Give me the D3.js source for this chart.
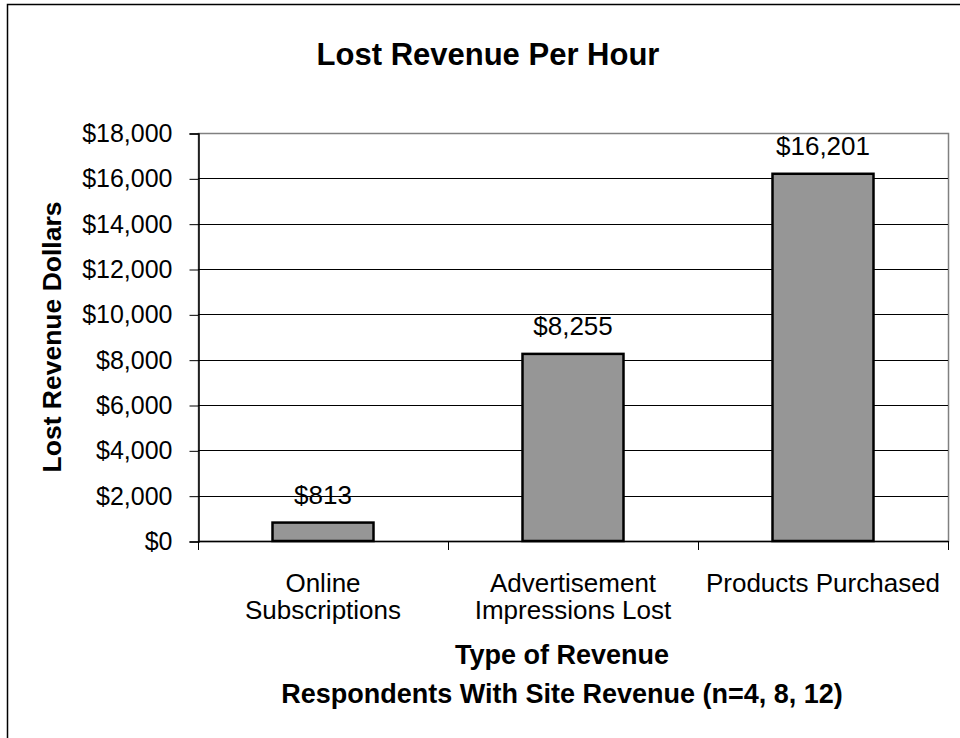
<!DOCTYPE html>
<html>
<head>
<meta charset="utf-8">
<script src="https://cdn.jsdelivr.net/npm/d3@7"></script>
<style>
  html, body { margin: 0; padding: 0; background: #fff; }
  svg { display: block; font-family: "Liberation Sans", Arial, sans-serif; }
</style>
</head>
<body>
<svg id="chart" width="960" height="738"></svg>
<script>
// Lost revenue per hour, by type of site revenue
const categories = ["Online Subscriptions", "Advertisement Impressions Lost", "Products Purchased"];
const categoryLines = [["Online", "Subscriptions"], ["Advertisement", "Impressions Lost"], ["Products Purchased"]];
const values = [813, 8255, 16201];
const yTicks = [0, 2000, 4000, 6000, 8000, 10000, 12000, 14000, 16000, 18000];
const title = "Lost Revenue Per Hour";
const yTitle = "Lost Revenue Dollars";
const xTitleLines = ["Type of Revenue", "Respondents With Site Revenue (n=4, 8, 12)"];

const svg = d3.select("#chart");
const plot = { left: 198, right: 948, top: 133, bottom: 541 };

const fmt = v => "$" + d3.format(",")(v);

const x = d3.scaleBand().domain(categories).range([plot.left, plot.right]).padding(0);
const y = d3.scaleLinear().domain([0, 18000]).range([plot.bottom, plot.top]);
const barWidth = x.bandwidth() * 0.404;

// outer chart frame
svg.append("rect")
  .attr("x", 7.5).attr("y", 4.5)
  .attr("width", 1000).attr("height", 1000)
  .attr("fill", "none").attr("stroke", "#000").attr("stroke-width", 1.5);

// title
svg.append("text")
  .attr("x", 488).attr("y", 65)
  .attr("text-anchor", "middle")
  .attr("font-size", 31).attr("font-weight", "bold")
  .text(title);

// plot area border
svg.append("rect")
  .attr("x", plot.left + 0.5).attr("y", plot.top + 0.5)
  .attr("width", plot.right - plot.left).attr("height", plot.bottom - plot.top)
  .attr("fill", "none").attr("stroke", "#808080").attr("stroke-width", 1.5);

// horizontal gridlines
svg.append("g")
  .selectAll("line")
  .data(yTicks.filter(t => t > 0 && t < 18000))
  .join("line")
  .attr("x1", plot.left).attr("x2", plot.right)
  .attr("y1", d => Math.round(y(d)) + 0.5).attr("y2", d => Math.round(y(d)) + 0.5)
  .attr("stroke", "#000").attr("stroke-width", 1);

// y axis
const yAxis = svg.append("g")
  .attr("transform", `translate(${plot.left + 0.5},0.5)`)
  .call(d3.axisLeft(y).tickValues(yTicks).tickFormat(fmt).tickSize(9).tickPadding(17));
yAxis.select(".domain").attr("stroke", "#000").attr("stroke-width", 1.5);
yAxis.selectAll(".tick line").attr("stroke", "#000");
yAxis.selectAll(".tick text")
  .attr("font-size", 25).attr("font-family", "Liberation Sans, Arial, sans-serif")
  .attr("fill", "#000");

// x axis: ticks at category boundaries
const boundaries = categories.map(c => x(c)).concat([plot.right]);
svg.append("line")
  .attr("x1", plot.left).attr("x2", plot.right)
  .attr("y1", plot.bottom + 0.5).attr("y2", plot.bottom + 0.5)
  .attr("stroke", "#000").attr("stroke-width", 1.5);
svg.append("g")
  .selectAll("line")
  .data(boundaries)
  .join("line")
  .attr("x1", d => Math.round(d) + 0.5).attr("x2", d => Math.round(d) + 0.5)
  .attr("y1", plot.bottom).attr("y2", plot.bottom + 9)
  .attr("stroke", "#000").attr("stroke-width", 1);

// bars
svg.append("g")
  .selectAll("rect")
  .data(values)
  .join("rect")
  .attr("x", (d, i) => x(categories[i]) + (x.bandwidth() - barWidth) / 2)
  .attr("y", d => y(d))
  .attr("width", barWidth)
  .attr("height", d => y(0) - y(d))
  .attr("fill", "#969696")
  .attr("stroke", "#000").attr("stroke-width", 2.5);

// value labels
svg.append("g")
  .selectAll("text")
  .data(values)
  .join("text")
  .attr("x", (d, i) => x(categories[i]) + x.bandwidth() / 2)
  .attr("y", d => y(d) - 19)
  .attr("text-anchor", "middle")
  .attr("font-size", 26)
  .text(d => fmt(d));

// category labels
const catG = svg.append("g")
  .selectAll("text")
  .data(categoryLines)
  .join("text")
  .attr("text-anchor", "middle")
  .attr("font-size", 26);
catG.selectAll("tspan")
  .data((d, i) => d.map(line => ({ line, i })))
  .join("tspan")
  .attr("x", d => x(categories[d.i]) + x.bandwidth() / 2)
  .attr("y", (d, j) => 592 + j * 27)
  .text(d => d.line);

// x axis title
svg.append("g")
  .selectAll("text")
  .data(xTitleLines)
  .join("text")
  .attr("x", 562)
  .attr("y", (d, i) => 664 + i * 39)
  .attr("text-anchor", "middle")
  .attr("font-size", 27).attr("font-weight", "bold")
  .text(d => d);

// y axis title
svg.append("text")
  .attr("transform", "translate(61,337) rotate(-90)")
  .attr("text-anchor", "middle")
  .attr("font-size", 26.5).attr("font-weight", "bold")
  .text(yTitle);
</script>
</body>
</html>
